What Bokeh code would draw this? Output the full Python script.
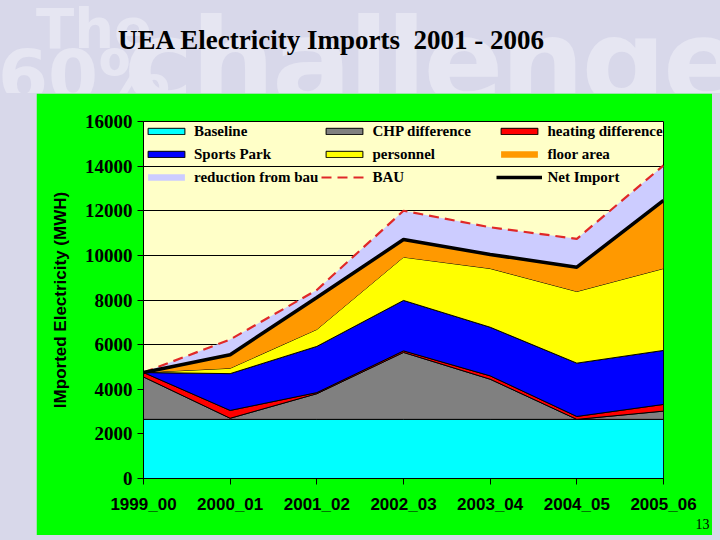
import base64
from bokeh.plotting import figure
from bokeh.models import Range1d, FixedTicker, Legend, LegendItem, Div, Spacer, Title
from bokeh.layouts import column, row
from bokeh.embed import file_html
from bokeh.resources import INLINE
import numpy as np

# ---- data (MWh) ----
years = ["1999_00", "2000_01", "2001_02", "2002_03", "2003_04", "2004_05", "2005_06"]
baseline = [2650, 2650, 2650, 2650, 2650, 2650, 2650]
chp_difference = [1900, 50, 1150, 3000, 1800, 0, 370]
heating_difference = [200, 350, 50, 70, 150, 130, 300]
sports_park = [0, 1650, 2070, 2260, 2180, 2390, 2420]
personnel = [0, 240, 760, 1940, 2630, 3210, 3670]
floor_area = [0, 610, 1430, 790, 630, 1090, 3050]
bau = [4750, 6230, 8450, 12000, 11260, 10740, 14030]
y_ticks = [0, 2000, 4000, 6000, 8000, 10000, 12000, 14000, 16000]

x = list(range(len(years)))

p = figure(width=676, height=442, output_backend="svg", toolbar_location=None,
           x_range=Range1d(0, len(years) - 1), y_range=Range1d(0, 16000),
           min_border_left=107, min_border_right=49, min_border_top=28, min_border_bottom=57,
           title=None)
p.border_fill_color = "#00FF00"
p.background_fill_color = "#FFFFC8"
p.outline_line_color = "black"
p.outline_line_width = 1

layers = [
    ("Baseline", baseline, "#00FFFF", "black"),
    ("CHP difference", chp_difference, "#808080", "black"),
    ("heating difference", heating_difference, "#FF0000", "black"),
    ("Sports Park", sports_park, "#0000FF", "black"),
    ("personnel", personnel, "#FFFF00", "black"),
    ("floor area", floor_area, "#FF9900", None),
]

bottom = np.zeros(len(years))
renderers = {}
for name, vals, fill, line in layers:
    top = bottom + np.array(vals, dtype=float)
    xs = x + x[::-1]
    ys = list(top) + list(bottom[::-1])
    r = p.patch(xs, ys, fill_color=fill, line_color=line, line_width=1)
    renderers[name] = r
    bottom = top

net_import = bottom.copy()
bau_arr = np.array(bau, dtype=float)
r_red = p.patch(x + x[::-1], list(bau_arr) + list(net_import[::-1]),
                fill_color="#CCCCFF", line_color=None)
renderers["reduction from bau"] = r_red
r_bau = p.line(x, bau, line_color="#E02828", line_width=2.2, line_dash="10 6")
renderers["BAU"] = r_bau
r_net = p.line(x, list(net_import), line_color="black", line_width=3.5)
renderers["Net Import"] = r_net

# axes
p.xaxis.ticker = FixedTicker(ticks=x)
p.xaxis.major_label_overrides = {i: y for i, y in enumerate(years)}
p.xaxis.major_label_text_font = "Liberation Sans"
p.xaxis.major_label_text_font_style = "bold"
p.xaxis.major_label_text_font_size = "17px"
p.xaxis.major_label_text_color = "black"
p.xaxis.major_label_standoff = 10
p.yaxis.ticker = FixedTicker(ticks=y_ticks)
p.yaxis.major_label_text_font = "Liberation Serif"
p.yaxis.major_label_text_font_style = "bold"
p.yaxis.major_label_text_font_size = "19px"
p.yaxis.major_label_text_color = "black"
p.yaxis.major_label_standoff = 5
p.yaxis.axis_label = "IMported Electricity (MWH)"
p.yaxis.axis_label_text_font = "Liberation Sans"
p.yaxis.axis_label_text_font_style = "bold"
p.yaxis.axis_label_text_font_size = "17px"
p.yaxis.axis_label_text_color = "black"
p.yaxis.axis_label_standoff = 12
for ax in (p.xaxis, p.yaxis):
    ax.major_tick_out = 6
    ax.major_tick_in = 0
    ax.minor_tick_out = 0
    ax.minor_tick_in = 0
    ax.axis_line_color = "black"
    ax.major_tick_line_color = "black"
p.xgrid.grid_line_color = None
p.ygrid.ticker = FixedTicker(ticks=y_ticks)
p.ygrid.grid_line_color = "black"
p.ygrid.grid_line_width = 1

order = ["Baseline", "CHP difference", "heating difference",
         "Sports Park", "personnel", "floor area",
         "reduction from bau", "BAU", "Net Import"]
legend = Legend(items=[LegendItem(label=n, renderers=[renderers[n]]) for n in order],
                location="top_left", orientation="horizontal", ncols=3,
                glyph_width=46, glyph_height=8, label_standoff=5,
                label_width=121, label_height=20, spacing=3,
                margin=0, padding=4,
                background_fill_alpha=0, border_line_color=None,
                label_text_font="Liberation Serif", label_text_font_style="bold",
                label_text_font_size="15px", label_text_color="black")
p.add_layout(legend, "center")

page_no = Title(text="13", align="right", offset=-46, standoff=0,
                text_font="Liberation Serif", text_font_size="14px",
                text_font_style="normal", text_color="black")
p.add_layout(page_no, "below")

# faint background artwork of the slide ("The 60% challenge"), drawn as an image
bg_svg = """<svg xmlns="http://www.w3.org/2000/svg" width="720" height="93" viewBox="0 0 720 93">
<g font-family="DejaVu Sans" font-weight="bold" fill="#E6E6F2">
<text x="36" y="48" font-size="56">The</text>
<text x="-2" y="101" font-size="72">60%</text>
<text x="124" y="103" font-size="118" letter-spacing="-3">challenge</text>
</g></svg>"""
bg_uri = "data:image/svg+xml;base64," + base64.b64encode(bg_svg.encode("utf-8")).decode("ascii")

html = (
    '<div style="position:relative;width:720px;height:93px;overflow:hidden;">'
    f'<img src="{bg_uri}" width="720" height="93" style="position:absolute;left:0;top:0;" alt="">'
    '<span style="position:absolute;left:118px;top:25px;font:bold 27px \'Liberation Serif\';'
    'color:#000;white-space:pre;">UEA Electricity Imports  2001 - 2006</span>'
    '</div>'
)
title_div = Div(text=html, width=720, height=93, margin=0)

layout = column(
    title_div,
    row(Spacer(width=36, height=442, margin=0), p, Spacer(width=8, height=442, margin=0), margin=0),
    Spacer(width=720, height=5, margin=0),
    width=720, height=540, margin=0,
    styles={"background-color": "#D8D8EA"},
)

open("out.html", "w").write(file_html(layout, INLINE))
